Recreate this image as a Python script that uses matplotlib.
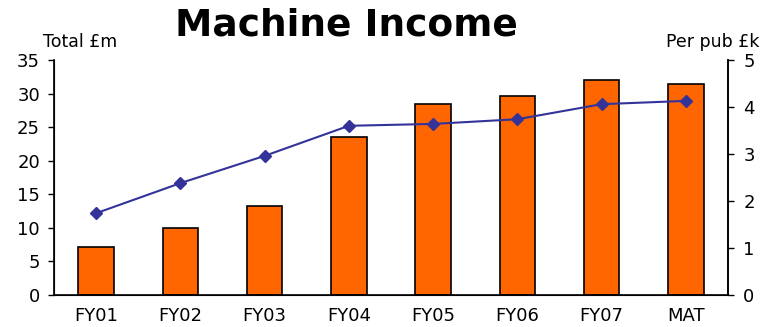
import numpy as np
import matplotlib.pyplot as plt

plt.rcParams['font.family'] = ['DejaVu Sans']

years = ['FY01', 'FY02', 'FY03', 'FY04', 'FY05', 'FY06', 'FY07', 'MAT']
total_m = [7.1, 10.0, 13.3, 23.5, 28.4, 29.6, 32.0, 31.5]
per_pub_k = [1.74, 2.38, 2.96, 3.60, 3.64, 3.74, 4.06, 4.13]

fig = plt.figure(figsize=(7.65, 3.27), dpi=100)
ax = fig.add_axes([0.0706, 0.0979, 0.881, 0.7186])
x = np.arange(len(years))

ax.bar(x, total_m, width=0.42, color='#FF6600', edgecolor='black', linewidth=1.2, zorder=2)
ax.set_xlim(-0.5, len(years) - 0.5)
ax.set_ylim(0, 35)
ax.set_yticks(range(0, 36, 5))
ax.set_xticks(x)
ax.set_xticklabels(years)
ax.tick_params(axis='x', length=0, pad=9, labelsize=13)
ax.tick_params(axis='y', direction='out', length=4, width=1, pad=6, labelsize=13)
ax.spines['top'].set_visible(False)
for s in ['left', 'bottom', 'right']:
    ax.spines[s].set_linewidth(1.2)

# per pub line on the right-hand axis
ax2 = ax.twinx()
ax2.plot(x, per_pub_k, color='#333399', linewidth=1.5, marker='D', markersize=6, zorder=3)
ax2.set_ylim(0, 5)
ax2.set_yticks(range(0, 6))
ax2.tick_params(axis='y', direction='out', length=4, width=1, pad=7, labelsize=13)
ax2.spines['top'].set_visible(False)
ax2.spines['right'].set_linewidth(1.2)

fig.text(0.453, 0.922, 'Machine Income', ha='center', va='center',
         fontsize=27, fontweight='bold')
fig.text(0.056, 0.872, 'Total £m', ha='left', va='center', fontsize=12.5)
fig.text(0.993, 0.872, 'Per pub £k', ha='right', va='center', fontsize=12.5)

fig.savefig('out.png', dpi=100)
